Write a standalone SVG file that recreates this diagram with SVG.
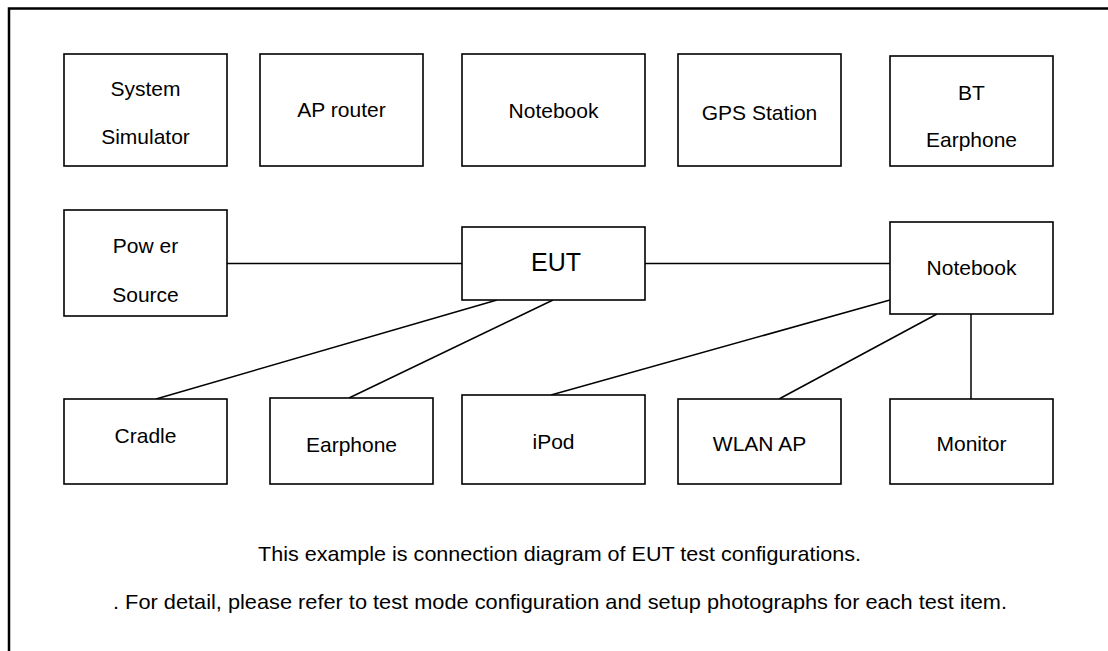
<svg xmlns="http://www.w3.org/2000/svg" width="1108" height="651" viewBox="0 0 1108 651">
<style>
.box{fill:#fff;stroke:#000;stroke-width:1.6}
.lbl{font-family:"Liberation Sans",Arial,sans-serif;font-size:21px;fill:#000;text-anchor:middle}
.big{font-size:25px}
.con{stroke:#000;stroke-width:1.5;fill:none}
.note{font-family:"Liberation Sans",Arial,sans-serif;font-size:21px;fill:#000;text-anchor:middle}
</style>
<rect width="1108" height="651" fill="#fff"/>
<path d="M9,651 V8.5 H1108" fill="none" stroke="#000" stroke-width="2.5"/>
<g id="connectors">
<line class="con" x1="227" y1="263.5" x2="462" y2="263.5"/>
<line class="con" x1="645" y1="263.5" x2="890" y2="263.5"/>
<line class="con" x1="497" y1="300" x2="156" y2="399"/>
<line class="con" x1="553" y1="300" x2="349" y2="398"/>
<line class="con" x1="890" y1="300" x2="551" y2="395"/>
<line class="con" x1="937" y1="314" x2="779" y2="399"/>
<line class="con" x1="971" y1="314" x2="971" y2="399"/>
</g>
<g id="system-simulator"><rect class="box" x="64" y="54" width="163" height="112"/><text class="lbl" x="145.5" y="96">System</text><text class="lbl" x="145.5" y="144">Simulator</text></g>
<g id="ap-router"><rect class="box" x="260" y="54" width="163" height="112"/><text class="lbl" x="341.5" y="117">AP router</text></g>
<g id="notebook-top"><rect class="box" x="462" y="54" width="183" height="112"/><text class="lbl" x="553.5" y="118">Notebook</text></g>
<g id="gps-station"><rect class="box" x="678" y="54" width="163" height="112"/><text class="lbl" x="759.5" y="120">GPS Station</text></g>
<g id="bt-earphone"><rect class="box" x="890" y="56" width="163" height="110"/><text class="lbl" x="971.5" y="100">BT</text><text class="lbl" x="971.5" y="147">Earphone</text></g>
<g id="power-source"><rect class="box" x="64" y="210" width="163" height="106"/><text class="lbl" x="145.5" y="253">Pow er</text><text class="lbl" x="145.5" y="302">Source</text></g>
<g id="eut"><rect class="box" x="462" y="227" width="183" height="73"/><text class="lbl big" x="556" y="271">EUT</text></g>
<g id="notebook"><rect class="box" x="890" y="222" width="163" height="92"/><text class="lbl" x="971.5" y="275">Notebook</text></g>
<g id="cradle"><rect class="box" x="64" y="399" width="163" height="85"/><text class="lbl" x="145.5" y="443">Cradle</text></g>
<g id="earphone"><rect class="box" x="270" y="398" width="163" height="86"/><text class="lbl" x="351.5" y="452">Earphone</text></g>
<g id="ipod"><rect class="box" x="462" y="395" width="183" height="89"/><text class="lbl" x="553.5" y="449">iPod</text></g>
<g id="wlan-ap"><rect class="box" x="678" y="399" width="163" height="85"/><text class="lbl" x="759.5" y="451">WLAN AP</text></g>
<g id="monitor"><rect class="box" x="890" y="399" width="163" height="85"/><text class="lbl" x="971.5" y="451">Monitor</text></g>
<g id="notes">
<text class="note" x="559.5" y="561" textLength="603" lengthAdjust="spacingAndGlyphs">This example is connection diagram of EUT test configurations.</text>
<text class="note" x="560" y="608.5" textLength="894" lengthAdjust="spacingAndGlyphs">. For detail, please refer to test mode configuration and setup photographs for each test item.</text>
</g>
</svg>
